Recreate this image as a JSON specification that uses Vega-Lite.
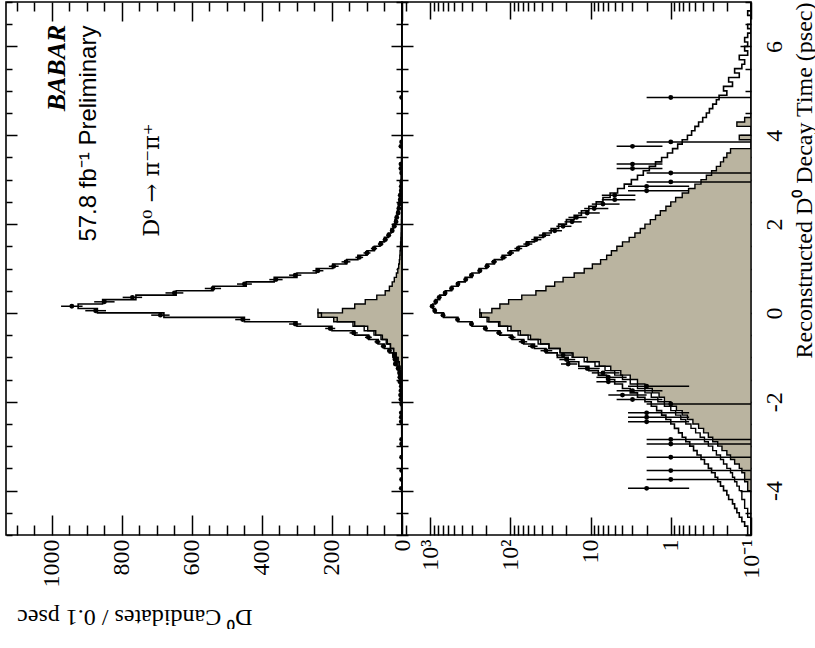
{
"$schema": "https://vega.github.io/schema/vega-lite/v6.json",
"padding": {"left": 4, "top": 0, "right": 0, "bottom": 0},
"background": "white",
"config": {
  "view": {"stroke": "black", "strokeWidth": 1.6},
  "axis": {"domain": false, "grid": false, "tickColor": "black", "tickWidth": 1.5, "labelColor": "black", "titleColor": "black",
           "labelFont": "Liberation Serif", "titleFont": "Liberation Serif", "labelFontSize": 24, "titleFontSize": 24,
           "titleFontWeight": "normal", "labelOverlap": false, "labelFlush": false}
},
"datasets": {
  "hist": [
    {"t":-5.0,"tot":0.11,"bkg":0},{"t":-4.9,"tot":0.11,"bkg":0},{"t":-4.8,"tot":0.12,"bkg":0},{"t":-4.7,"tot":0.13,"bkg":0},
    {"t":-4.6,"tot":0.14,"bkg":0},{"t":-4.5,"tot":0.15,"bkg":0},{"t":-4.4,"tot":0.16,"bkg":0},{"t":-4.3,"tot":0.17,"bkg":0},
    {"t":-4.2,"tot":0.19,"bkg":0},{"t":-4.1,"tot":0.2,"bkg":0},{"t":-4.0,"tot":0.22,"bkg":0.1},{"t":-3.9,"tot":0.24,"bkg":0.11},
    {"t":-3.8,"tot":0.26,"bkg":0.11},{"t":-3.7,"tot":0.28,"bkg":0.12},{"t":-3.6,"tot":0.31,"bkg":0.12},{"t":-3.5,"tot":0.34,"bkg":0.13},
    {"t":-3.4,"tot":0.38,"bkg":0.14},{"t":-3.3,"tot":0.42,"bkg":0.16},{"t":-3.2,"tot":0.47,"bkg":0.18},{"t":-3.1,"tot":0.52,"bkg":0.2},
    {"t":-3.0,"tot":0.58,"bkg":0.23},{"t":-2.9,"tot":0.65,"bkg":0.26},{"t":-2.8,"tot":0.72,"bkg":0.3},{"t":-2.7,"tot":0.8,"bkg":0.34},
    {"t":-2.6,"tot":0.9,"bkg":0.39},{"t":-2.5,"tot":1.0,"bkg":0.45},{"t":-2.4,"tot":1.15,"bkg":0.53},{"t":-2.3,"tot":1.3,"bkg":0.62},
    {"t":-2.2,"tot":1.5,"bkg":0.72},{"t":-2.1,"tot":1.75,"bkg":0.85},{"t":-2.0,"tot":2.1,"bkg":1.0},{"t":-1.9,"tot":2.6,"bkg":1.2},
    {"t":-1.8,"tot":3.2,"bkg":1.4},{"t":-1.7,"tot":4.0,"bkg":1.7},{"t":-1.6,"tot":5.0,"bkg":2.1},{"t":-1.5,"tot":6.3,"bkg":2.6},
    {"t":-1.4,"tot":8.0,"bkg":3.2},{"t":-1.3,"tot":10.5,"bkg":4.2},{"t":-1.2,"tot":14,"bkg":5.6},{"t":-1.1,"tot":19,"bkg":7.8},
    {"t":-1.0,"tot":26,"bkg":11},{"t":-0.9,"tot":36,"bkg":17},{"t":-0.8,"tot":50,"bkg":24},{"t":-0.7,"tot":68,"bkg":33},
    {"t":-0.6,"tot":95,"bkg":42},{"t":-0.5,"tot":135,"bkg":56},{"t":-0.4,"tot":200,"bkg":75},{"t":-0.3,"tot":300,"bkg":98},
    {"t":-0.2,"tot":450,"bkg":135},{"t":-0.1,"tot":680,"bkg":195},{"t":0.0,"tot":870,"bkg":240},{"t":0.1,"tot":925,"bkg":170},
    {"t":0.2,"tot":855,"bkg":135},{"t":0.3,"tot":760,"bkg":105},{"t":0.4,"tot":645,"bkg":72},{"t":0.5,"tot":540,"bkg":48},
    {"t":0.6,"tot":445,"bkg":36},{"t":0.7,"tot":365,"bkg":28},{"t":0.8,"tot":300,"bkg":22},{"t":0.9,"tot":245,"bkg":16},
    {"t":1.0,"tot":198,"bkg":12},{"t":1.1,"tot":158,"bkg":9.5},{"t":1.2,"tot":126,"bkg":7.5},{"t":1.3,"tot":100,"bkg":6.3},
    {"t":1.4,"tot":79,"bkg":5.5},{"t":1.5,"tot":63,"bkg":4.7},{"t":1.6,"tot":50,"bkg":4.0},{"t":1.7,"tot":39,"bkg":3.3},
    {"t":1.8,"tot":31,"bkg":2.8},{"t":1.9,"tot":25,"bkg":2.4},{"t":2.0,"tot":20,"bkg":2.1},{"t":2.1,"tot":16,"bkg":1.8},
    {"t":2.2,"tot":13,"bkg":1.55},{"t":2.3,"tot":10.5,"bkg":1.35},{"t":2.4,"tot":8.5,"bkg":1.15},{"t":2.5,"tot":7,"bkg":1.0},
    {"t":2.6,"tot":5.7,"bkg":0.87},{"t":2.7,"tot":4.6,"bkg":0.72},{"t":2.8,"tot":3.8,"bkg":0.6},{"t":2.9,"tot":3.1,"bkg":0.5},
    {"t":3.0,"tot":2.6,"bkg":0.42},{"t":3.1,"tot":2.2,"bkg":0.36},{"t":3.2,"tot":1.85,"bkg":0.31},{"t":3.3,"tot":1.55,"bkg":0.27},
    {"t":3.4,"tot":1.3,"bkg":0.24},{"t":3.5,"tot":1.1,"bkg":0.22},{"t":3.6,"tot":0.95,"bkg":0.2},{"t":3.7,"tot":0.82,"bkg":0.18},
    {"t":3.8,"tot":0.72,"bkg":0},{"t":3.9,"tot":0.62,"bkg":0},{"t":4.0,"tot":0.55,"bkg":0.14},{"t":4.1,"tot":0.5,"bkg":0},
    {"t":4.2,"tot":0.45,"bkg":0},{"t":4.3,"tot":0.4,"bkg":0.15},{"t":4.4,"tot":0.36,"bkg":0.12},{"t":4.5,"tot":0.33,"bkg":0},
    {"t":4.6,"tot":0.3,"bkg":0},{"t":4.7,"tot":0.27,"bkg":0},{"t":4.8,"tot":0.25,"bkg":0},{"t":4.9,"tot":0.2,"bkg":0},
    {"t":5.0,"tot":0.22,"bkg":0},{"t":5.1,"tot":0.17,"bkg":0},{"t":5.2,"tot":0.19,"bkg":0},{"t":5.3,"tot":0.14,"bkg":0},
    {"t":5.4,"tot":0.16,"bkg":0},{"t":5.5,"tot":0.13,"bkg":0},{"t":5.6,"tot":0.12,"bkg":0},{"t":5.7,"tot":0.14,"bkg":0},
    {"t":5.8,"tot":0.11,"bkg":0},{"t":5.9,"tot":0.12,"bkg":0},{"t":6.0,"tot":0.11,"bkg":0},{"t":6.1,"tot":0.12,"bkg":0},
    {"t":6.2,"tot":0.11,"bkg":0},{"t":6.3,"tot":0.1,"bkg":0},{"t":6.4,"tot":0.11,"bkg":0},{"t":6.5,"tot":0.1,"bkg":0},
    {"t":6.6,"tot":0.1,"bkg":0},{"t":6.7,"tot":0.11,"bkg":0},{"t":6.8,"tot":0.1,"bkg":0},{"t":6.9,"tot":0.1,"bkg":0},
    {"t":7.0,"tot":0.1,"bkg":0}
  ],
  "alt": [
    {"t":-5.0,"v":0.1},{"t":-4.9,"v":0.1},{"t":-4.8,"v":0.1},{"t":-4.7,"v":0.1},{"t":-4.6,"v":0.11},{"t":-4.5,"v":0.11},
    {"t":-4.4,"v":0.12},{"t":-4.3,"v":0.12},{"t":-4.2,"v":0.13},{"t":-4.1,"v":0.13},{"t":-4.0,"v":0.14},{"t":-3.9,"v":0.15},
    {"t":-3.8,"v":0.16},{"t":-3.7,"v":0.17},{"t":-3.6,"v":0.18},{"t":-3.5,"v":0.2},{"t":-3.4,"v":0.22},{"t":-3.3,"v":0.24},
    {"t":-3.2,"v":0.27},{"t":-3.1,"v":0.3},{"t":-3.0,"v":0.34},{"t":-2.9,"v":0.38},{"t":-2.8,"v":0.43},{"t":-2.7,"v":0.49},
    {"t":-2.6,"v":0.56},{"t":-2.5,"v":0.65},{"t":-2.4,"v":0.75},{"t":-2.3,"v":0.87},{"t":-2.2,"v":1.0},{"t":-2.1,"v":1.2},
    {"t":-2.0,"v":1.45},{"t":-1.9,"v":1.75},{"t":-1.8,"v":2.1},{"t":-1.7,"v":2.6},{"t":-1.6,"v":3.2},{"t":-1.5,"v":4.0},
    {"t":-1.4,"v":5.0},{"t":-1.3,"v":6.6},{"t":-1.2,"v":8.8},{"t":-1.1,"v":12},{"t":-1.0,"v":16.5},{"t":-0.9,"v":24},
    {"t":-0.8,"v":33},{"t":-0.7,"v":45},{"t":-0.6,"v":60},{"t":-0.5,"v":80},{"t":-0.4,"v":108},{"t":-0.3,"v":140},
    {"t":-0.2,"v":185},{"t":-0.1,"v":230},{"t":0.0,"v":240},{"t":0.1,"v":240}
  ],
  "pts": [
    {"t":-3.95,"n":2,"lo":0.59,"hi":3.41},{"t":-3.75,"n":1,"lo":0,"hi":2},{"t":-3.55,"n":1,"lo":0,"hi":2},{"t":-3.25,"n":1,"lo":0,"hi":2},
    {"t":-2.95,"n":1,"lo":0,"hi":2},{"t":-2.85,"n":1,"lo":0,"hi":2},{"t":-2.45,"n":2,"lo":0.59,"hi":3.41},{"t":-2.35,"n":2,"lo":0.59,"hi":3.41},
    {"t":-2.25,"n":2,"lo":0.59,"hi":3.41},{"t":-2.05,"n":1,"lo":0,"hi":2},{"t":-1.95,"n":3,"lo":1.27,"hi":4.73},{"t":-1.85,"n":4,"lo":2,"hi":6},
    {"t":-1.75,"n":3,"lo":1.27,"hi":4.73},{"t":-1.65,"n":2,"lo":0.59,"hi":3.41},{"t":-1.55,"n":6,"lo":3.55,"hi":8.45},{"t":-1.45,"n":6,"lo":3.55,"hi":8.45},
    {"t":-1.35,"n":7,"lo":4.35,"hi":9.65},{"t":-1.25,"n":11,"lo":7.68,"hi":14.32},{"t":-1.15,"n":19,"lo":14.64,"hi":23.36},{"t":-1.05,"n":20,"lo":15.53,"hi":24.47},
    {"t":-0.95,"n":22,"lo":17.31,"hi":26.69},{"t":-0.85,"n":36,"lo":30,"hi":42},{"t":-0.75,"n":53,"lo":45.72,"hi":60.28},{"t":-0.65,"n":70,"lo":61.63,"hi":78.37},
    {"t":-0.55,"n":96,"lo":86.2,"hi":105.8},{"t":-0.45,"n":138,"lo":126.25,"hi":149.75},{"t":-0.35,"n":205,"lo":190.68,"hi":219.32},{"t":-0.25,"n":305,"lo":287.54,"hi":322.46},
    {"t":-0.15,"n":455,"lo":433.67,"hi":476.33},{"t":-0.05,"n":690,"lo":663.73,"hi":716.27},{"t":0.05,"n":875,"lo":845.42,"hi":904.58},{"t":0.15,"n":943,"lo":912.29,"hi":973.71},
    {"t":0.25,"n":850,"lo":820.85,"hi":879.15},{"t":0.35,"n":770,"lo":742.25,"hi":797.75},{"t":0.45,"n":650,"lo":624.5,"hi":675.5},{"t":0.55,"n":540,"lo":516.76,"hi":563.24},
    {"t":0.65,"n":450,"lo":428.79,"hi":471.21},{"t":0.75,"n":360,"lo":341.03,"hi":378.97},{"t":0.85,"n":305,"lo":287.54,"hi":322.46},{"t":0.95,"n":240,"lo":224.51,"hi":255.49},
    {"t":1.05,"n":195,"lo":181.04,"hi":208.96},{"t":1.15,"n":160,"lo":147.35,"hi":172.65},{"t":1.25,"n":122,"lo":110.95,"hi":133.05},{"t":1.35,"n":100,"lo":90,"hi":110},
    {"t":1.45,"n":80,"lo":71.06,"hi":88.94},{"t":1.55,"n":61,"lo":53.19,"hi":68.81},{"t":1.65,"n":48,"lo":41.07,"hi":54.93},{"t":1.75,"n":38,"lo":31.84,"hi":44.16},
    {"t":1.85,"n":28,"lo":22.71,"hi":33.29},{"t":1.95,"n":22,"lo":17.31,"hi":26.69},{"t":2.05,"n":17,"lo":12.88,"hi":21.12},{"t":2.15,"n":15,"lo":11.13,"hi":18.87},
    {"t":2.25,"n":11,"lo":7.68,"hi":14.32},{"t":2.35,"n":9,"lo":6,"hi":12},{"t":2.45,"n":7,"lo":4.35,"hi":9.65},{"t":2.55,"n":5,"lo":2.76,"hi":7.24},
    {"t":2.65,"n":5,"lo":2.76,"hi":7.24},{"t":2.75,"n":2,"lo":0.59,"hi":3.41},{"t":2.85,"n":2,"lo":0.59,"hi":3.41},{"t":2.95,"n":1,"lo":0,"hi":2},
    {"t":3.15,"n":1,"lo":0,"hi":2},{"t":3.25,"n":3,"lo":1.27,"hi":4.73},{"t":3.35,"n":3,"lo":1.27,"hi":4.73},{"t":3.75,"n":3,"lo":1.27,"hi":4.73},
    {"t":3.85,"n":1,"lo":0,"hi":2},{"t":4.85,"n":1,"lo":0,"hi":2}
  ]
},
"spacing": 0,
"bounds": "flush",
"hconcat": [
  {
    "width": 396, "height": 533,
    "resolve": {"axis": {"x": "independent", "y": "independent"}},
    "layer": [
      {
        "data": {"name": "hist"},
        "mark": {"type": "area", "orient": "horizontal", "interpolate": "step-before", "fill": "#bab4a0", "stroke": "black", "strokeWidth": 1.4, "clip": true},
        "encoding": {
          "y": {"field": "t", "type": "quantitative", "scale": {"domain": [-5, 7], "nice": false, "zero": false},
                "axis": {"orient": "left", "values": [-5,-4.5,-4,-3.5,-3,-2.5,-2,-1.5,-1,-0.5,0,0.5,1,1.5,2,2.5,3,3.5,4,4.5,5,5.5,6,6.5,7],
                         "labels": false, "title": null,
                         "tickSize": {"condition": {"test": "datum.value % 2 === 0", "value": -11}, "value": -6}}},
          "x": {"field": "bkg", "type": "quantitative", "stack": null,
                "scale": {"domain": [0, 1131], "reverse": true, "nice": false, "clamp": true},
                "axis": {"orient": "bottom", "values": [0,50,100,150,200,250,300,350,400,450,500,550,600,650,700,750,800,850,900,950,1000,1050,1100],
                         "labelExpr": "datum.value % 200 === 0 ? '' + datum.value : ''",
                         "tickSize": {"condition": {"test": "datum.value % 200 === 0", "value": -20}, "value": -10},
                         "labelAngle": 270, "labelAlign": "right", "labelBaseline": "middle", "labelPadding": 24,
                         "title": "D⁰ Candidates / 0.1 psec", "titleAngle": 180, "titleX": 246, "titleY": 74,
                         "titleAlign": "left", "titleBaseline": "alphabetic"}},
          "x2": {"datum": 0}
        }
      },
      {
        "data": {"name": "hist"},
        "mark": {"type": "line", "interpolate": "step-before", "color": "black", "strokeWidth": 1.6, "clip": true},
        "encoding": {
          "y": {"field": "t", "type": "quantitative", "scale": {"domain": [-5, 7], "nice": false, "zero": false},
                "axis": {"orient": "right", "values": [-5,-4.5,-4,-3.5,-3,-2.5,-2,-1.5,-1,-0.5,0,0.5,1,1.5,2,2.5,3,3.5,4,4.5,5,5.5,6,6.5,7],
                         "labels": false, "title": null,
                         "tickSize": {"condition": {"test": "datum.value % 2 === 0", "value": -11}, "value": -6}}},
          "x": {"field": "tot", "type": "quantitative",
                "scale": {"domain": [0, 1131], "reverse": true, "nice": false, "clamp": true},
                "axis": {"orient": "top", "values": [0,50,100,150,200,250,300,350,400,450,500,550,600,650,700,750,800,850,900,950,1000,1050,1100],
                         "labels": false, "title": null,
                         "tickSize": {"condition": {"test": "datum.value % 200 === 0", "value": -19}, "value": -9}}},
          "order": {"field": "t", "type": "quantitative"}
        }
      },
      {
        "data": {"name": "alt"},
        "mark": {"type": "line", "interpolate": "step-before", "color": "black", "strokeWidth": 1.4, "clip": true},
        "encoding": {
          "y": {"field": "t", "type": "quantitative", "axis": null},
          "x": {"field": "v", "type": "quantitative", "axis": null},
          "order": {"field": "t", "type": "quantitative"}
        }
      },
      {
        "data": {"name": "pts"},
        "mark": {"type": "rule", "color": "black", "strokeWidth": 1.5, "clip": true},
        "encoding": {
          "y": {"field": "t", "type": "quantitative", "axis": null},
          "x": {"field": "lo", "type": "quantitative", "axis": null},
          "x2": {"field": "hi"}
        }
      },
      {
        "data": {"name": "pts"},
        "mark": {"type": "circle", "size": 24, "color": "black", "opacity": 1, "clip": true},
        "encoding": {
          "y": {"field": "t", "type": "quantitative", "axis": null},
          "x": {"field": "n", "type": "quantitative", "axis": null}
        }
      },
      {
        "data": {"values": [{"c": 986, "t": 6.49, "label": "BABAR"}]},
        "mark": {"type": "text", "angle": 270, "align": "right", "baseline": "middle", "font": "Liberation Serif", "fontSize": 26, "fontWeight": "bold", "fontStyle": "italic", "color": "black"},
        "encoding": {
          "x": {"field": "c", "type": "quantitative", "axis": null},
          "y": {"field": "t", "type": "quantitative", "axis": null},
          "text": {"field": "label"}
        }
      },
      {
        "data": {"values": [{"c": 894, "t": 6.47, "label": "57.8 fb⁻¹ Preliminary"}]},
        "mark": {"type": "text", "angle": 270, "align": "right", "baseline": "middle", "font": "Liberation Sans", "fontSize": 24, "color": "black"},
        "encoding": {
          "x": {"field": "c", "type": "quantitative", "axis": null},
          "y": {"field": "t", "type": "quantitative", "axis": null},
          "text": {"field": "label"}
        }
      },
      {
        "data": {"values": [{"c": 714, "t": 4.27, "label": "D⁰ → π⁻π⁺"}]},
        "mark": {"type": "text", "angle": 270, "align": "right", "baseline": "middle", "font": "DejaVu Serif", "fontSize": 22.5, "color": "black"},
        "encoding": {
          "x": {"field": "c", "type": "quantitative", "axis": null},
          "y": {"field": "t", "type": "quantitative", "axis": null},
          "text": {"field": "label"}
        }
      }
    ]
  },
  {
    "width": 349, "height": 533,
    "resolve": {"axis": {"x": "independent", "y": "independent"}},
    "layer": [
      {
        "data": {"name": "hist"},
        "mark": {"type": "area", "orient": "horizontal", "interpolate": "step-before", "fill": "#bab4a0", "stroke": "black", "strokeWidth": 1.4, "clip": true},
        "encoding": {
          "y": {"field": "t", "type": "quantitative", "scale": {"domain": [-5, 7], "nice": false, "zero": false},
                "axis": {"orient": "left", "values": [-5,-4.5,-4,-3.5,-3,-2.5,-2,-1.5,-1,-0.5,0,0.5,1,1.5,2,2.5,3,3.5,4,4.5,5,5.5,6,6.5,7],
                         "labels": false, "title": null,
                         "tickSize": {"condition": {"test": "datum.value % 2 === 0", "value": -11}, "value": -6}}},
          "x": {"field": "bkg", "type": "quantitative", "stack": null,
                "scale": {"type": "log", "domain": [0.1, 2240], "reverse": true, "nice": false, "clamp": true},
                "axis": {"orient": "bottom", "values": [0.1,0.2,0.3,0.4,0.5,0.6,0.7,0.8,0.9,1,2,3,4,5,6,7,8,9,10,20,30,40,50,60,70,80,90,100,200,300,400,500,600,700,800,900,1000,2000],
                         "labelExpr": "datum.value === 1000 ? '10³' : datum.value === 100 ? '10²' : datum.value === 10 ? '10' : datum.value === 1 ? '1' : datum.value === 0.1 ? '10⁻¹' : ''",
                         "tickSize": {"condition": {"test": "datum.value === 0.1 || datum.value === 1 || datum.value === 10 || datum.value === 100 || datum.value === 1000", "value": -18}, "value": -10},
                         "labelAngle": 270, "labelAlign": "right", "labelBaseline": "middle", "labelPadding": 22,
                         "title": null}},
          "x2": {"datum": 0.1}
        }
      },
      {
        "data": {"name": "hist"},
        "mark": {"type": "line", "interpolate": "step-before", "color": "black", "strokeWidth": 1.6, "clip": true},
        "encoding": {
          "y": {"field": "t", "type": "quantitative", "scale": {"domain": [-5, 7], "nice": false, "zero": false},
                "axis": {"orient": "right", "values": [-5,-4.5,-4,-3.5,-3,-2.5,-2,-1.5,-1,-0.5,0,0.5,1,1.5,2,2.5,3,3.5,4,4.5,5,5.5,6,6.5,7],
                         "labelExpr": "datum.value % 2 === 0 ? (datum.value < 0 ? '-' + abs(datum.value) : '' + datum.value) : ''",
                         "tickSize": {"condition": {"test": "datum.value % 2 === 0", "value": -11}, "value": -6},
                         "labelAngle": 270, "labelAlign": "center", "labelBaseline": "top", "labelPadding": 22,
                         "title": "Reconstructed D⁰ Decay Time (psec)", "titleAngle": 270, "titleAlign": "right",
                         "titleBaseline": "alphabetic", "titleX": 60, "titleY": 0}},
          "x": {"field": "tot", "type": "quantitative",
                "scale": {"type": "log", "domain": [0.1, 2240], "reverse": true, "nice": false, "clamp": true},
                "axis": {"orient": "top", "values": [0.1,0.2,0.3,0.4,0.5,0.6,0.7,0.8,0.9,1,2,3,4,5,6,7,8,9,10,20,30,40,50,60,70,80,90,100,200,300,400,500,600,700,800,900,1000,2000],
                         "labels": false, "title": null,
                         "tickSize": {"condition": {"test": "datum.value === 0.1 || datum.value === 1 || datum.value === 10 || datum.value === 100 || datum.value === 1000", "value": -17}, "value": -9}}},
          "order": {"field": "t", "type": "quantitative"}
        }
      },
      {
        "data": {"name": "alt"},
        "mark": {"type": "line", "interpolate": "step-before", "color": "black", "strokeWidth": 1.4, "clip": true},
        "encoding": {
          "y": {"field": "t", "type": "quantitative", "axis": null},
          "x": {"field": "v", "type": "quantitative", "axis": null},
          "order": {"field": "t", "type": "quantitative"}
        }
      },
      {
        "data": {"name": "pts"},
        "mark": {"type": "rule", "color": "black", "strokeWidth": 1.5, "clip": true},
        "encoding": {
          "y": {"field": "t", "type": "quantitative", "axis": null},
          "x": {"field": "lo", "type": "quantitative", "axis": null},
          "x2": {"field": "hi"}
        }
      },
      {
        "data": {"name": "pts"},
        "mark": {"type": "circle", "size": 24, "color": "black", "opacity": 1, "clip": true},
        "encoding": {
          "y": {"field": "t", "type": "quantitative", "axis": null},
          "x": {"field": "n", "type": "quantitative", "axis": null}
        }
      }
    ]
  }
]
}
